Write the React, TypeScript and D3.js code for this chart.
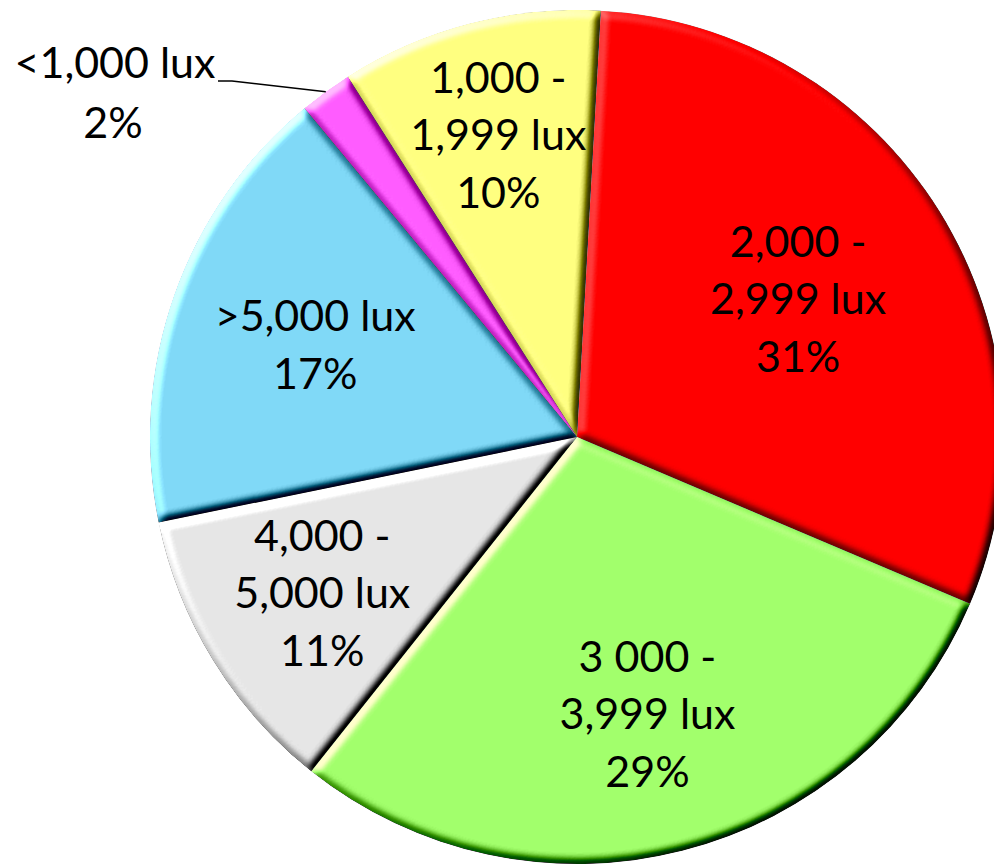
import React from "react";
import * as d3 from "d3";

const categories = [
  "2,000 - 2,999 lux",
  "3 000 - 3,999 lux",
  "4,000 - 5,000 lux",
  ">5,000 lux",
  "<1,000 lux",
  "1,000 - 1,999 lux",
];
const labelLines = [
  ["2,000 -", "2,999 lux"],
  ["3 000 -", "3,999 lux"],
  ["4,000 -", "5,000 lux"],
  [">5,000 lux"],
  ["<1,000 lux"],
  ["1,000 -", "1,999 lux"],
];
const values = [30.5, 29.3, 11.1, 17.2, 2.0, 9.9];
const colors = ["#FF0000", "#A2FF6C", "#E6E6E6", "#80D9F7", "#FF5CFF", "#FFFF80"];

// layout
const W = 994;
const H = 864;
const CX = 577;
const CY = 437;
const R = 427;
const START = (3.2 * Math.PI) / 180;
const labelRadius = [0.61, 0.67, 0.7, 0.65, 0, 0.73];
const FONT = 43;
const LH = 57.5;

export default function App() {
  const pie = d3
    .pie<number>()
    .sort(null)
    .value((d) => d)
    .startAngle(START)
    .endAngle(START + 2 * Math.PI);
  const arcs = pie(values);
  const arc = d3.arc<d3.PieArcDatum<number>>().innerRadius(0).outerRadius(R);
  const total = d3.sum(values);

  return (
    <svg
      width={W}
      height={H}
      style={{ position: "absolute", left: 0, top: 0, background: "#fff" }}
      fontFamily="Lato, 'Open Sans', sans-serif"
    >
      <defs>
        <filter id="bevel" x="-10%" y="-10%" width="120%" height="120%" colorInterpolationFilters="sRGB">
          <feGaussianBlur in="SourceAlpha" stdDeviation="4.5" result="blur" />
          <feDiffuseLighting in="blur" surfaceScale="6" diffuseConstant="1" lightingColor="#ffffff" result="diff">
            <feDistantLight azimuth="225" elevation="45" />
          </feDiffuseLighting>
          <feComposite in="SourceGraphic" in2="diff" operator="arithmetic" k1="0" k2="1" k3="1.3" k4="-0.919" result="lit" />
          <feComposite in="lit" in2="SourceAlpha" operator="in" />
        </filter>
      </defs>
      <g transform={`translate(${CX},${CY})`}>
        {arcs.map((a, i) => (
          <path key={categories[i]} d={arc(a) || ""} fill={colors[i]} filter="url(#bevel)" />
        ))}
        {arcs.map((a, i) => {
          const pct = Math.round((values[i] / total) * 100) + "%";
          const mid = (a.startAngle + a.endAngle) / 2;
          if (labelRadius[i] === 0) {
            const ex = R * Math.sin(mid);
            const ey = -R * Math.cos(mid);
            const lx = 115 - CX;
            const ly = 78 - CY;
            return (
              <g key={"l" + i}>
                <polyline
                  points={`${lx + 103},${ly + 3} ${lx + 117},${ly + 3} ${ex},${ey}`}
                  fill="none"
                  stroke="#000"
                  strokeWidth={1.5}
                />
                <text x={lx} y={ly} textAnchor="middle" fontSize={FONT} fill="#000">
                  {labelLines[i][0]}
                </text>
                <text x={lx - 2} y={ly + 60} textAnchor="middle" fontSize={FONT} fill="#000">
                  {pct}
                </text>
              </g>
            );
          }
          const rr = R * labelRadius[i];
          const x = rr * Math.sin(mid);
          const y = -rr * Math.cos(mid);
          const lines = [...labelLines[i], pct];
          const n = lines.length;
          return (
            <text key={"l" + i} textAnchor="middle" fontSize={FONT} fill="#000">
              {lines.map((t, k) => (
                <tspan key={k} x={x} y={y + (k - (n - 1) / 2) * LH + 15}>
                  {t}
                </tspan>
              ))}
            </text>
          );
        })}
      </g>
    </svg>
  );
}
